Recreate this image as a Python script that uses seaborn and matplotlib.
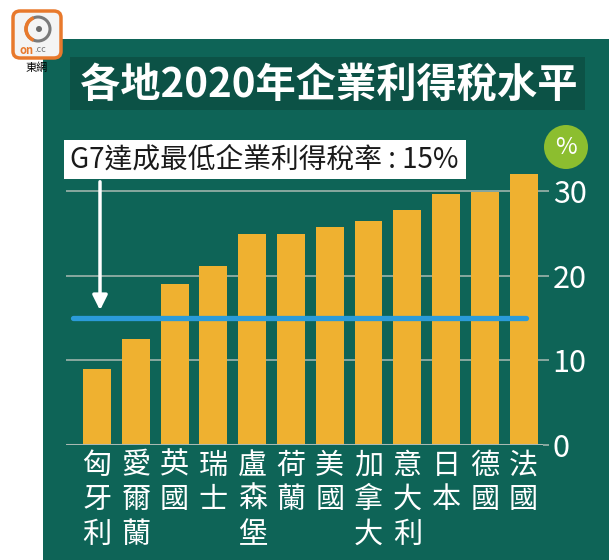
import matplotlib
matplotlib.use("Agg")
import matplotlib.pyplot as plt
import matplotlib.patches as patches
import numpy as np
import pandas as pd
import seaborn as sns

# data
countries = ["匈牙利", "愛爾蘭", "英國", "瑞士", "盧森堡", "荷蘭",
             "美國", "加拿大", "意大利", "日本", "德國", "法國"]
tax_rates = [9.0, 12.5, 19.0, 21.2, 25.0, 25.0, 25.8, 26.5, 27.8, 29.7, 29.9, 32.0]
min_rate = 15
y_ticks = [0, 10, 20, 30]
title = "各地2020年企業利得稅水平"
note = "G7達成最低企業利得稅率 : 15%"

df = pd.DataFrame({"country": countries, "rate": tax_rates})

GREEN = "#0e6457"
DARK = "#0c5246"
BAR = "#efb130"
BLUE = "#2b9bd9"
GRID = "#9db4ac"

sns.set_theme(style="white")
plt.rcParams["font.family"] = ["Noto Sans CJK TC", "DejaVu Sans"]

W, H = 609, 560
fig = plt.figure(figsize=(W / 100, H / 100), dpi=100)
fig.patch.set_facecolor("white")


def fx(px):
    return px / W


def fy(py):
    return 1 - py / H


# green panel + title box
fig.patches.append(patches.Rectangle((fx(43), 0), 1 - fx(43), fy(39), transform=fig.transFigure,
                                     facecolor=GREEN, edgecolor="none", zorder=0))
fig.patches.append(patches.Rectangle((fx(70), fy(110)), fx(585 - 70), (110 - 57) / H,
                                     transform=fig.transFigure, facecolor=DARK,
                                     edgecolor="none", zorder=1))
fig.text(fx(329), fy(85), title, color="white", fontsize=29, fontweight="bold",
         ha="center", va="center", zorder=2)

# logo
fig.patches.append(patches.FancyBboxPatch((fx(13), fy(58)), fx(48), 47 / H,
                                          boxstyle="round,pad=0,rounding_size=0.012",
                                          transform=fig.transFigure, facecolor="#f4f4f4",
                                          edgecolor="#e8792c", linewidth=2.5, zorder=3))
fig.patches.append(patches.Ellipse((fx(38), fy(29)), 24 / W, 24 / H, transform=fig.transFigure,
                                   facecolor="none", edgecolor="#7a7a7a", linewidth=2.2, zorder=4))
fig.patches.append(patches.Arc((fx(38), fy(29)), 24 / W, 24 / H, theta1=110, theta2=250,
                               transform=fig.transFigure, edgecolor="#e8792c", linewidth=2.6, zorder=5))
fig.patches.append(patches.Ellipse((fx(39), fy(29)), 6 / W, 6 / H, transform=fig.transFigure,
                                   facecolor="#6a6a6a", edgecolor="none", zorder=5))
fig.text(fx(20), fy(50), "on", color="#e8792c", fontsize=8, fontweight="bold",
         ha="left", va="center", zorder=5)
fig.text(fx(34), fy(50), ".cc", color="#777777", fontsize=6.5, ha="left", va="center", zorder=5)
fig.text(fx(37), fy(68), "東網", color="black", fontsize=8, ha="center", va="center")

# chart axes
ax = fig.add_axes([fx(66), 1 - 445 / H, fx(543 - 66), (445 - 166) / H])
ax.set_zorder(3)
ax.set_facecolor("none")
sns.barplot(data=df, x="country", y="rate", color=BAR, saturation=1, width=0.72,
            linewidth=0, ax=ax, zorder=3)
ax.set_xlim(-0.8, 11.5)
ax.set_ylim(0, 33)

for t in y_ticks[1:]:
    ax.axhline(t, color=GRID, lw=1.2, zorder=1)
ax.axhline(0, color="#a9b9b3", lw=2.2, zorder=4)
ax.hlines(min_rate, -0.62, 11.06, color=BLUE, lw=3.8, zorder=5, capstyle="round")

for s in ax.spines.values():
    s.set_visible(False)
ax.yaxis.tick_right()
ax.set_yticks(y_ticks)
ax.set_yticklabels([str(t) for t in y_ticks], color="white", fontsize=22)
ax.tick_params(axis="y", length=4, color=GRID, width=1.2, pad=3, right=True)
ax.set_xticks(range(len(countries)))
ax.set_xticklabels(["\n".join(c) for c in countries], color="white", fontsize=21,
                   linespacing=1.2, va="top")
ax.tick_params(axis="x", length=0, pad=4)
ax.set_xlabel("")
ax.set_ylabel("")

# % badge
fig.patches.append(patches.Ellipse((fx(566), fy(147)), 44 / W, 44 / H, transform=fig.transFigure,
                                   facecolor="#8cbe2f", edgecolor="none", zorder=6))
fig.text(fx(566), fy(148), "%", color="white", fontsize=17, ha="center", va="center", zorder=7)

# note box with arrow
fig.patches.append(patches.Rectangle((fx(64), fy(179)), fx(466 - 64), (179 - 140) / H,
                                     transform=fig.transFigure, facecolor="white",
                                     edgecolor="none", zorder=6))
fig.text(fx(70), fy(160), note, color="#1a1a1a", fontsize=20, ha="left", va="center", zorder=7)
ax.annotate("", xy=(fx(100), fy(313)), xytext=(fx(100), fy(179)),
            xycoords="figure fraction", textcoords="figure fraction",
            arrowprops=dict(arrowstyle="-|>", color="white", lw=2.5, mutation_scale=22),
            zorder=7)

fig.savefig("out.png", dpi=100)
